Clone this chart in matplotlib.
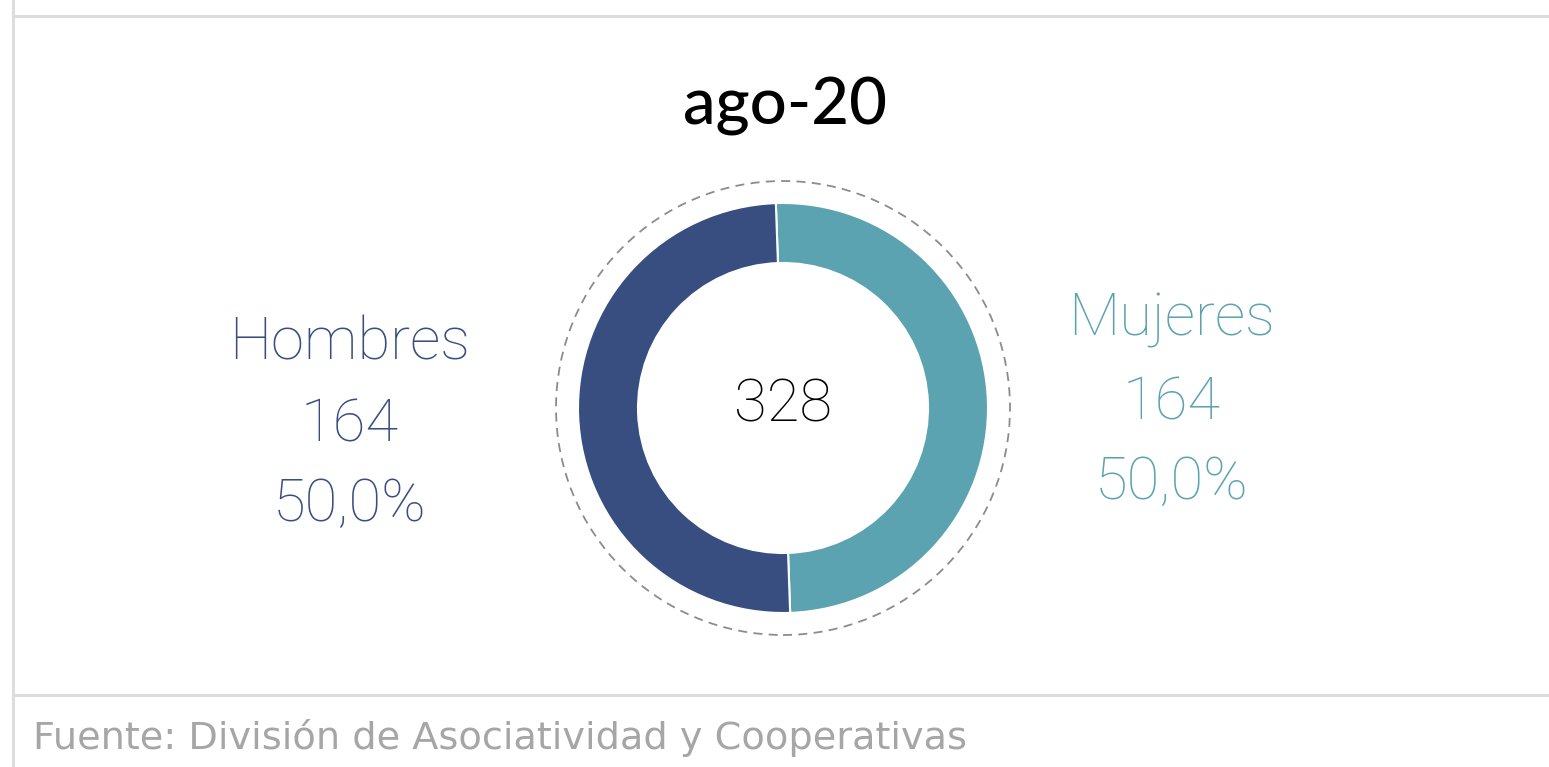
import matplotlib.pyplot as plt
from matplotlib.patches import Circle

# data
title = 'ago-20'
categories = ['Hombres', 'Mujeres']
values = [164, 164]
pct_labels = ['50,0%', '50,0%']
total = sum(values)
source = 'Fuente: División de Asociatividad y Cooperativas'

col_h = '#384E80'
col_m = '#5BA3B0'
W, H = 1549, 767

fig = plt.figure(figsize=(W / 100, H / 100), dpi=100)
ax = fig.add_axes([0, 0, 1, 1])


def py(y):
    # pixel row (top-down) -> data y
    return H - y


# frame lines
line_c = '#DDDDDD'
ax.plot([13, W], [py(16), py(16)], color=line_c, lw=2.2)
ax.plot([13, W], [py(695), py(695)], color=line_c, lw=2.2)
ax.plot([13, 13], [py(0), py(H)], color=line_c, lw=2.2)

# donut
cx, cy, r_out = 783, py(408), 205
ax.pie([values[1], values[0]], colors=[col_m, col_h], startangle=92,
       counterclock=False, center=(cx, cy), radius=r_out,
       wedgeprops=dict(width=60, edgecolor='white', linewidth=1.5),
       frame=True)
ax.set_xlim(0, W)
ax.set_ylim(0, H)
ax.set_aspect('equal')
ax.axis('off')
ax.add_patch(Circle((cx, cy), 227, fill=False, edgecolor='#8C8C8C',
                    lw=1.3, linestyle=(0, (5, 3.5))))

light = dict(family=['Roboto', 'DejaVu Sans'], fontweight='light')

ax.text(785, py(106), title, ha='center', va='center', fontsize=47,
        family=['Lato', 'DejaVu Sans'], fontweight='medium', color='black')
ax.text(cx, py(405), str(total), ha='center', va='center', fontsize=43,
        color='black', **light)

for txt, y in zip([categories[0], str(values[0]), pct_labels[0]], [343, 425, 505]):
    ax.text(350, py(y), txt, ha='center', va='center', fontsize=43,
            color=col_h, **light)
for txt, y in zip([categories[1], str(values[1]), pct_labels[1]], [320, 403, 483]):
    ax.text(1172, py(y), txt, ha='center', va='center', fontsize=43,
            color=col_m, **light)

ax.text(33, py(738), source, ha='left', va='center', fontsize=27.5,
        color='#A6A6A6', family=['DejaVu Sans'])

fig.savefig('out.png', dpi=100)
